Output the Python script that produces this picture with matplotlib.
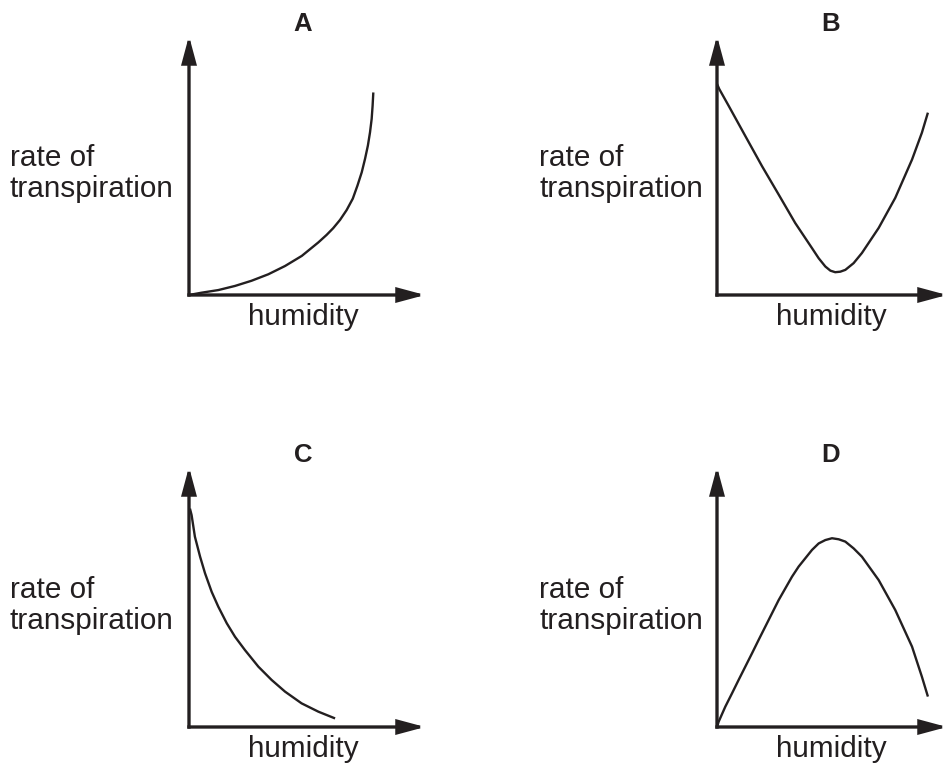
import matplotlib
matplotlib.use("Agg")
import matplotlib.pyplot as plt

# relative humidity / relative rate (0..1 of axis length)
a_humidity = [0.0, 0.054, 0.124, 0.195, 0.265, 0.336, 0.407, 0.478, 0.548, 0.583,
              0.611, 0.640, 0.668, 0.694, 0.714, 0.732, 0.746, 0.758, 0.767,
              0.774, 0.778, 0.781]
a_rate = [0.0, 0.009, 0.019, 0.035, 0.055, 0.080, 0.112, 0.151, 0.203, 0.232,
          0.258, 0.290, 0.328, 0.372, 0.423, 0.474, 0.526, 0.577, 0.628,
          0.680, 0.731, 0.782]

b_humidity = [0.0, 0.010, 0.051, 0.123, 0.196, 0.268, 0.340, 0.413, 0.442, 0.471,
              0.493, 0.514, 0.536, 0.558, 0.594, 0.630, 0.703, 0.775, 0.848,
              0.891, 0.917]
b_rate = [0.815, 0.795, 0.730, 0.614, 0.497, 0.388, 0.278, 0.181, 0.142, 0.110,
          0.094, 0.088, 0.090, 0.097, 0.123, 0.162, 0.259, 0.375, 0.523,
          0.627, 0.704]

c_humidity = [0.004, 0.011, 0.025, 0.047, 0.068, 0.096, 0.124, 0.160, 0.195, 0.237,
              0.294, 0.350, 0.407, 0.477, 0.548, 0.619]
c_rate = [0.84, 0.815, 0.732, 0.655, 0.591, 0.520, 0.463, 0.399, 0.347, 0.296,
          0.232, 0.181, 0.136, 0.091, 0.059, 0.033]

d_humidity = [0.0, 0.007, 0.036, 0.065, 0.094, 0.123, 0.152, 0.181, 0.210, 0.239,
              0.268, 0.297, 0.326, 0.355, 0.384, 0.413, 0.442, 0.471, 0.500,
              0.529, 0.558, 0.594, 0.630, 0.703, 0.775, 0.848, 0.891, 0.917]
d_rate = [0.0, 0.020, 0.078, 0.129, 0.181, 0.232, 0.283, 0.335, 0.386, 0.437,
          0.488, 0.533, 0.578, 0.617, 0.649, 0.681, 0.706, 0.719, 0.726,
          0.722, 0.713, 0.687, 0.655, 0.565, 0.450, 0.309, 0.193, 0.117]

panel_names = ["A", "B", "C", "D"]
x_label = "humidity"
y_label = "rate of\ntranspiration"

W, H = 948, 768
INK = "#231f20"
FONT = "Liberation Sans"

fig = plt.figure(figsize=(W / 100, H / 100), dpi=100)


def fx(px):
    return px / W


def fy(py):
    return 1 - py / H


# (origin x, origin y, x-arrow tip, y-arrow tip) in pixels
boxes = [
    (189, 295, 425, 36),
    (717, 295, 947, 36),
    (189, 727, 425, 467),
    (717, 727, 947, 467),
]
curves = [(a_humidity, a_rate), (b_humidity, b_rate),
          (c_humidity, c_rate), (d_humidity, d_rate)]
label_x = [10, 539, 10, 539]

for i, ((x0, y0, x1, y1), (hx, ry)) in enumerate(zip(boxes, curves)):
    ax = fig.add_axes([fx(x0), fy(y0), (x1 - x0) / W, (y0 - y1) / H])
    ax.set_xlim(0, 1)
    ax.set_ylim(0, 1)
    ax.axis("off")

    arrow = dict(arrowstyle="-|>,head_length=0.78,head_width=0.21",
                 mutation_scale=20, lw=2.4, color=INK,
                 shrinkA=0, shrinkB=0, capstyle="projecting", joinstyle="miter")
    ax.annotate("", xy=(1, 0), xytext=(0, 0), xycoords="axes fraction",
                arrowprops=arrow, annotation_clip=False)
    ax.annotate("", xy=(0, 1), xytext=(0, 0), xycoords="axes fraction",
                arrowprops=arrow, annotation_clip=False)

    ax.plot(hx, ry, color=INK, lw=1.7, solid_capstyle="butt",
            solid_joinstyle="round", clip_on=False)

    # panel letter, axis labels
    cx = x0 + 114
    fig.text(fx(cx), fy(y1 - 5), panel_names[i], ha="center", va="baseline",
             fontsize=18.5, fontweight="bold", family=FONT, color=INK)
    fig.text(fx(cx), fy(y0 + 30), x_label, ha="center", va="baseline",
             fontsize=21.4, family=FONT, color=INK)
    fig.text(fx(label_x[i]), fy(y0 - 98), y_label, ha="left", va="baseline",
             fontsize=21.4, family=FONT, color=INK, linespacing=1.15)

fig.savefig("out.png", dpi=100, facecolor="white")
